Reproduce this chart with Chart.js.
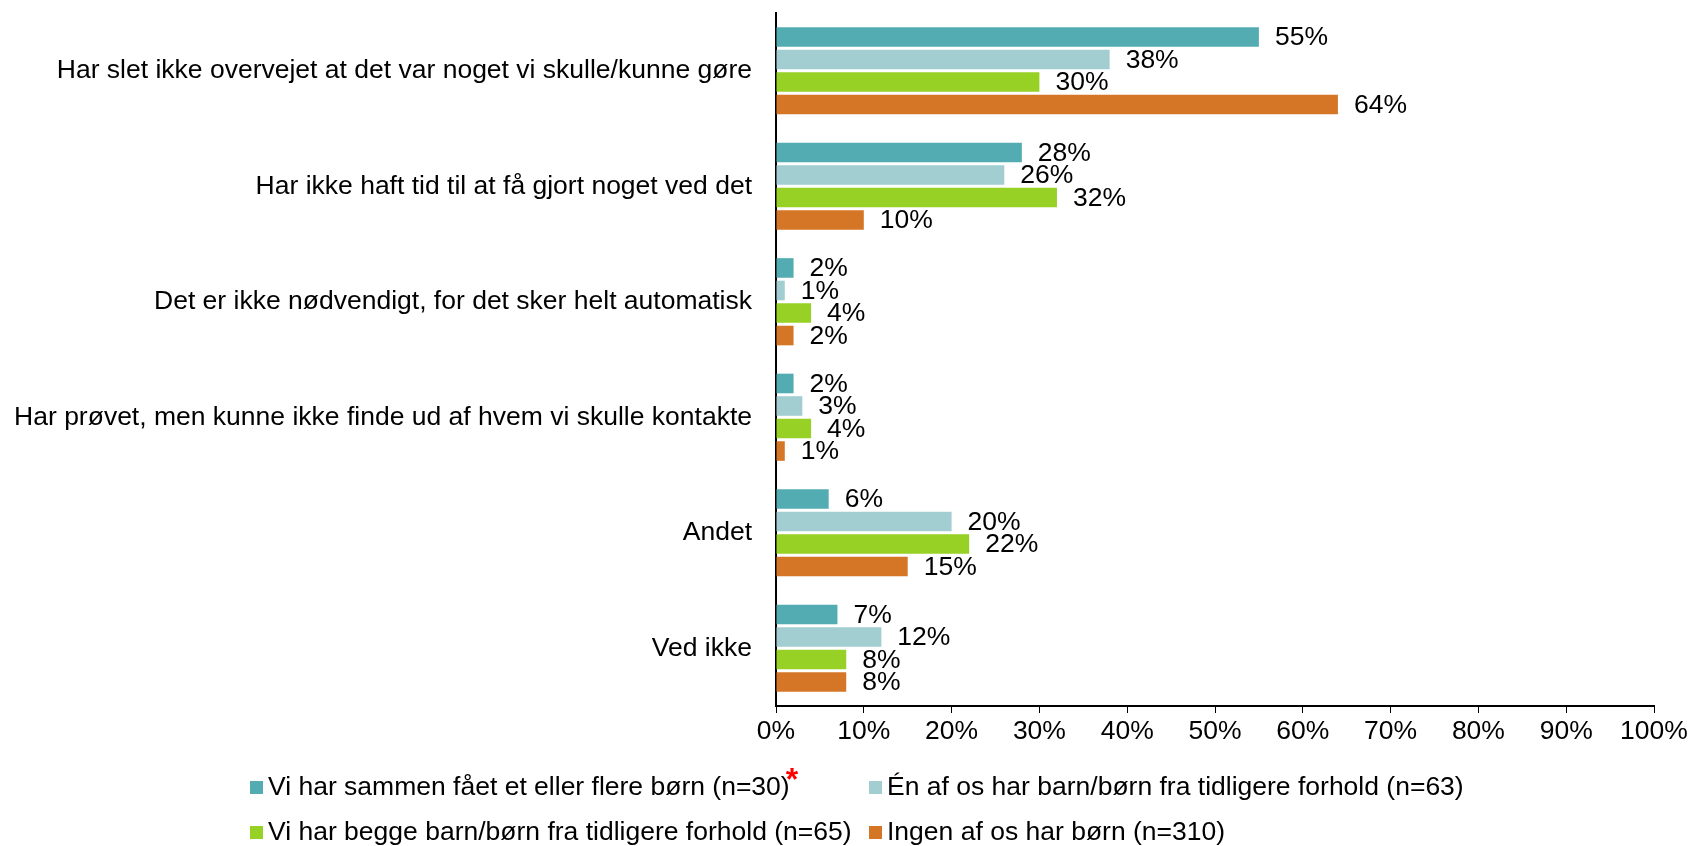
<!DOCTYPE html>
<html>
<head>
<meta charset="utf-8">
<script src="https://cdn.jsdelivr.net/npm/chart.js@4/dist/chart.umd.min.js"></script>
<style>
  html, body { margin: 0; padding: 0; background: #fff; }
  #wrap { position: relative; width: 1690px; height: 846px; }
  #c { position: absolute; left: 0; top: 0; }
  .legend { position: absolute; font-family: "Liberation Sans", Arial, sans-serif; font-size: 26.5px; color: #000; white-space: nowrap; line-height: 30px; height: 30px; }
  .legend .sw { display: inline-block; width: 13px; height: 13px; margin-right: 5px; vertical-align: 1px; }
  .legend .ast { position: absolute; color: #ff0000; font-size: 32px; font-weight: bold; top: -8px; margin-left: -4px; line-height: 1; }
</style>
</head>
<body>
<div id="wrap">
  <canvas id="c" width="1690" height="846"></canvas>
</div>
<script>
const categories = [
  "Har slet ikke overvejet at det var noget vi skulle/kunne gøre",
  "Har ikke haft tid til at få gjort noget ved det",
  "Det er ikke nødvendigt, for det sker helt automatisk",
  "Har prøvet, men kunne ikke finde ud af hvem vi skulle kontakte",
  "Andet",
  "Ved ikke"
];
const seriesNames = [
  "Vi har sammen fået et eller flere børn (n=30)",
  "Én af os har barn/børn fra tidligere forhold (n=63)",
  "Vi har begge barn/børn fra tidligere forhold (n=65)",
  "Ingen af os har børn (n=310)"
];
const sammen = [55, 28, 2, 2, 6, 7];
const enAfOs = [38, 26, 1, 3, 20, 12];
const begge  = [30, 32, 4, 4, 22, 8];
const ingen  = [64, 10, 2, 1, 15, 8];
const xTicks = [0, 10, 20, 30, 40, 50, 60, 70, 80, 90, 100];
const colors = ["#53ACB1", "#A2CED1", "#97D125", "#D57627"];

const FONT = "'Liberation Sans', Arial, sans-serif";
const FS = 26.5;
const allValues = [sammen, enAfOs, begge, ingen];

const labelPlugin = {
  id: 'valueLabels',
  afterDatasetsDraw(chart) {
    const ctx = chart.ctx;
    ctx.save();
    ctx.font = FS + "px " + FONT;
    ctx.fillStyle = "#000";
    ctx.textBaseline = "middle";
    ctx.textAlign = "left";
    chart.data.datasets.forEach((ds, i) => {
      const meta = chart.getDatasetMeta(i);
      meta.data.forEach((el, j) => {
        ctx.fillText(ds.data[j] + "%", el.x + 16, el.y + 1);
      });
    });
    ctx.restore();
  }
};

new Chart(document.getElementById('c'), {
  type: 'bar',
  data: {
    labels: categories,
    datasets: allValues.map((vals, i) => ({
      label: seriesNames[i],
      data: vals,
      backgroundColor: colors[i],
      borderWidth: 0,
      categoryPercentage: 0.78,
      barPercentage: 0.87
    }))
  },
  options: {
    indexAxis: 'y',
    responsive: false,
    animation: false,
    devicePixelRatio: 1,
    layout: { padding: { left: 0, right: 36, top: 13, bottom: 100 } },
    plugins: { legend: { display: false }, tooltip: { enabled: false } },
    scales: {
      x: {
        min: 0, max: 100,
        afterBuildTicks(scale) { scale.ticks = xTicks.map(v => ({ value: v })); },
        afterFit(scale) { scale.height = 40; scale.paddingLeft = 0; scale.paddingRight = 0; },
        grid: { drawOnChartArea: false, drawTicks: true, tickLength: 7, color: '#000', lineWidth: 1 },
        border: { display: true, color: '#000', width: 2 },
        ticks: { color: '#000', font: { family: FONT, size: FS }, padding: 3, maxRotation: 0, callback: v => v + '%' }
      },
      y: {
        afterFit(scale) { scale.width = 776; scale.paddingTop = 0; scale.paddingBottom = 0; },
        grid: { display: false, drawTicks: false },
        border: { display: true, color: '#000', width: 2 },
        ticks: { color: '#000', font: { family: FONT, size: FS }, padding: 24, autoSkip: false }
      }
    }
  },
  plugins: [labelPlugin]
});

// Legend (two-column grid as in the reference)
const wrap = document.getElementById('wrap');
const pos = [[250, 771], [869, 771], [250, 816], [869, 816]];
seriesNames.forEach((name, i) => {
  const d = document.createElement('div');
  d.className = 'legend';
  d.style.left = pos[i][0] + 'px';
  d.style.top = pos[i][1] + 'px';
  const sw = document.createElement('span');
  sw.className = 'sw';
  sw.style.background = colors[i];
  d.appendChild(sw);
  d.appendChild(document.createTextNode(name));
  if (i === 0) {
    const s = document.createElement('span');
    s.className = 'ast';
    s.textContent = '*';
    d.appendChild(s);
  }
  wrap.appendChild(d);
});
</script>
</body>
</html>
